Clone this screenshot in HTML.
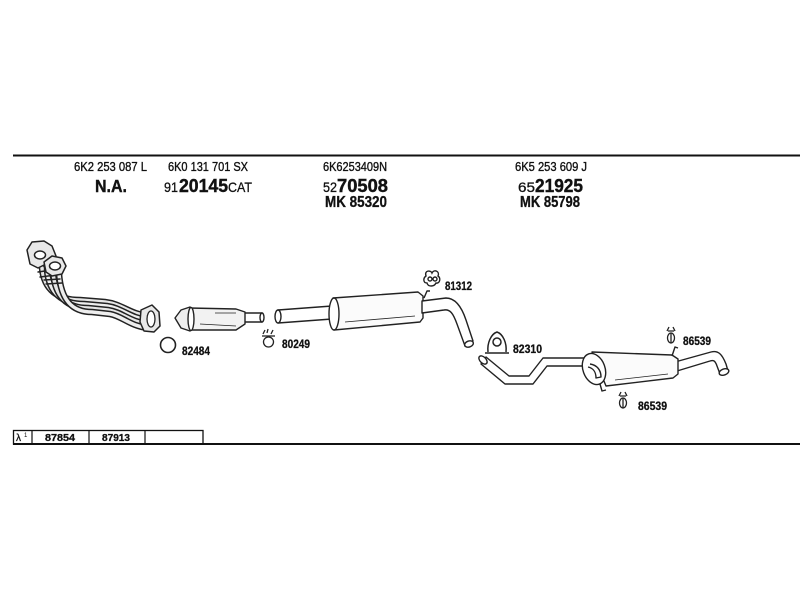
<!DOCTYPE html>
<html><head><meta charset="utf-8"><style>
html,body{margin:0;padding:0;background:#fff;}
svg{display:block;}
text{font-family:"Liberation Sans",Arial,sans-serif;fill:#111;}
.r{font-size:12.5px;stroke:#111;stroke-width:0.35px;}
.b{font-weight:bold;}
.l{font-size:12px;font-weight:bold;stroke:#111;stroke-width:0.3px;}
</style></head><body>
<svg width="800" height="600" viewBox="0 0 800 600" xmlns="http://www.w3.org/2000/svg">
<rect width="800" height="600" fill="#fff"/>
<!-- top rule -->
<line x1="13" y1="155.5" x2="800" y2="155.5" stroke="#111" stroke-width="2"/>
<!-- header texts -->
<text class="r" x="74" y="171" textLength="73" lengthAdjust="spacingAndGlyphs">6K2 253 087 L</text>
<text class="b" x="95" y="192" font-size="17.5" textLength="32" lengthAdjust="spacingAndGlyphs" stroke="#111" stroke-width="0.4">N.A.</text>

<text class="r" x="168" y="171" textLength="80" lengthAdjust="spacingAndGlyphs">6K0 131 701 SX</text>
<text x="164" y="192" font-size="14" textLength="14" lengthAdjust="spacingAndGlyphs" stroke="#111" stroke-width="0.3">91</text>
<text class="b" x="179" y="192" font-size="18" textLength="49" lengthAdjust="spacingAndGlyphs" stroke="#111" stroke-width="0.4">20145</text>
<text x="228" y="192" font-size="14" textLength="24" lengthAdjust="spacingAndGlyphs" stroke="#111" stroke-width="0.3">CAT</text>

<text class="r" x="323" y="171" textLength="64" lengthAdjust="spacingAndGlyphs">6K6253409N</text>
<text x="323" y="192" font-size="14" textLength="14" lengthAdjust="spacingAndGlyphs" stroke="#111" stroke-width="0.3">52</text>
<text class="b" x="337" y="192" font-size="18" textLength="51" lengthAdjust="spacingAndGlyphs" stroke="#111" stroke-width="0.4">70508</text>
<text class="b" x="325" y="207" font-size="15.5" textLength="62" lengthAdjust="spacingAndGlyphs" stroke="#111" stroke-width="0.3">MK 85320</text>

<text class="r" x="515" y="171" textLength="72" lengthAdjust="spacingAndGlyphs">6K5 253 609 J</text>
<text x="518" y="192" font-size="14" textLength="17" lengthAdjust="spacingAndGlyphs" stroke="#111" stroke-width="0.3">65</text>
<text class="b" x="535" y="192" font-size="18" textLength="48" lengthAdjust="spacingAndGlyphs" stroke="#111" stroke-width="0.4">21925</text>
<text class="b" x="520" y="207" font-size="15.5" textLength="60" lengthAdjust="spacingAndGlyphs" stroke="#111" stroke-width="0.3">MK 85798</text>

<!-- ===== manifold ===== -->
<g stroke="#222" fill="none" stroke-linecap="round" stroke-linejoin="round">
  <g>
    <path d="M42,268 C44,290 58,300 80,300 L105,302 C122,304 130,314 148,316" stroke="#222" stroke-width="6.5"/>
    <path d="M42,268 C44,290 58,300 80,300 L105,302 C122,304 130,314 148,316" stroke="#e6e6e6" stroke-width="3.5"/>
    <path d="M47,270 C49,293 62,304 84,304 L107,306 C122,308 130,318 148,320" stroke="#222" stroke-width="6.5"/>
    <path d="M47,270 C49,293 62,304 84,304 L107,306 C122,308 130,318 148,320" stroke="#eee" stroke-width="3.5"/>
    <path d="M53,272 C55,297 67,308 88,308 L108,310 C122,312 130,322 148,324" stroke="#222" stroke-width="6.5"/>
    <path d="M53,272 C55,297 67,308 88,308 L108,310 C122,312 130,322 148,324" stroke="#e6e6e6" stroke-width="3.5"/>
    <path d="M59,274 C61,300 72,312 92,312 L110,314 C122,316 130,326 148,328" stroke="#222" stroke-width="6.5"/>
    <path d="M59,274 C61,300 72,312 92,312 L110,314 C122,316 130,326 148,328" stroke="#eee" stroke-width="3.5"/>
  </g>
  <!-- collars -->
  <path d="M38,272 L52,270 M40,277 L56,275 M44,280 L60,279 M46,284 L62,283" stroke-width="1.4"/>
  <!-- flanges -->
  <path d="M27,250 L32,242 L44,241 L52,246 L56,256 L50,262 L38,268 L30,264 Z" fill="#e8e8e8" stroke-width="1.5"/>
  <ellipse cx="40" cy="255" rx="5.5" ry="4" fill="#fff" stroke-width="1.5"/>
  <path d="M44,262 L52,256 L62,258 L66,266 L62,274 L52,276 L46,272 Z" fill="#e8e8e8" stroke-width="1.5"/>
  <ellipse cx="55" cy="266" rx="5.5" ry="4" fill="#fff" stroke-width="1.5"/>
  <!-- outlet flange -->
  <path d="M141,310 L152,305 L159,312 L160,326 L154,332 L144,331 L140,322 Z" fill="#e8e8e8" stroke-width="1.5"/>
  <ellipse cx="151" cy="319" rx="4" ry="8" fill="#fff" stroke-width="1.3"/>
</g>

<!-- ===== catalyst ===== -->
<g stroke="#222" stroke-width="1.4" fill="#fff" stroke-linejoin="round">
  <path d="M244,313 L262,313 L262,322 L244,322 Z"/>
  <ellipse cx="262" cy="317.5" rx="2" ry="4.5"/>
  <path d="M189,308 L236,309 L245,312 L245,324 L236,330 L189,330 Z" fill="#f2f2f2"/>
  <path d="M175,318 L181,310 L190,307 L192,318 L190,331 L181,328 Z" fill="#eee"/>
  <ellipse cx="191" cy="319" rx="3" ry="11.5"/>
  <path d="M200,324 L236,326 M215,313 L236,313" stroke-width="0.8" fill="none"/>
</g>
<circle cx="168" cy="345" r="7.5" fill="none" stroke="#222" stroke-width="1.6"/>

<!-- ===== middle silencer ===== -->
<g stroke="#222" stroke-width="1.4" fill="#fff" stroke-linejoin="round">
  <path d="M278,310 L332,306 L332,319 L278,323 Z"/>
  <ellipse cx="278" cy="316.5" rx="3" ry="6.5"/>
  <path d="M333,298 L418,292 L423,296 L423,318 L420,322 L334,330 Z" fill="#fbfbfb"/>
  <ellipse cx="334" cy="314" rx="5" ry="16"/>
  <path d="M345,322 L415,316" stroke-width="0.8" fill="none"/>
  <path d="M422,301 L446,298 C456,298 462,308 466,320 L473,341 L465,346 L457,324 C453,313 450,309 444,310 L422,313 Z"/>
  <ellipse cx="469" cy="344" rx="4.5" ry="3" transform="rotate(-20 469 344)"/>
  <path d="M424,298 L427,291 L430,291" fill="none"/>
</g>

<!-- 81312 hanger -->
<g stroke="#222" stroke-width="1.4" fill="#fff">
  <path d="M426,276 C424,270 431,270 432,273 C434,269 440,271 438,276 C441,278 440,284 436,283 C434,287 428,287 427,283 C423,283 423,278 426,276 Z"/>
  <circle cx="430" cy="279" r="2" />
  <circle cx="435" cy="279" r="2" />
</g>
<!-- 80249 clamp -->
<g stroke="#222" stroke-width="1.3" fill="#fff">
  <path d="M263,334 L265,330 M267,333 L268,329 M271,334 L273,330" fill="none"/>
  <path d="M262,336 L275,336" />
  <circle cx="268.5" cy="342" r="5"/>
</g>

<!-- 82310 clamp -->
<g stroke="#222" stroke-width="1.5" fill="none">
  <path d="M488,352 C487,343 491,334 497,332 C503,334 507,343 506,352"/>
  <path d="M485,353 L509,353" />
  <circle cx="497" cy="342" r="4" fill="#fff"/>
</g>

<!-- ===== rear pipe & silencer ===== -->
<g stroke="#222" stroke-width="1.4" fill="#fff" stroke-linejoin="round">
  <path d="M486,357 L509,376 L529,376 L543,358 L588,358 L588,366 L547,366 L533,384 L505,384 L481,364 Z"/>
  <ellipse cx="483" cy="360" rx="3" ry="5" transform="rotate(-45 483 360)"/>
  <path d="M675,362 L711,352 C718,350 722,354 726,364 L728,371 L720,374 L717,366 C715,360 713,360 710,361 L677,371 Z"/>
  <ellipse cx="724" cy="372" rx="5" ry="3" transform="rotate(-20 724 372)"/>
  <path d="M592,352 L672,355 L678,359 L678,374 L673,378 L606,386 Z" fill="#fbfbfb"/>
  <ellipse cx="594" cy="369" rx="11" ry="16" transform="rotate(-20 594 369)"/>
  <path d="M588,367 C593,368 596,372 596,378 L601,377 C601,370 597,365 590,364" />
  <path d="M615,380 L668,374" stroke-width="0.8" fill="none"/>
  <path d="M600,384 L602,391 L606,390" fill="none"/>
  <path d="M672,356 L675,347 L678,348" fill="none"/>
</g>

<!-- 86539 hangers -->
<g stroke="#222" stroke-width="1.3" fill="#fff">
  <path d="M667,331 L669,327 M675,331 L673,327 M668,331 L674,331" fill="none"/>
  <ellipse cx="671" cy="338" rx="3.5" ry="5"/>
  <path d="M671,333 L671,343" />
  <path d="M619,396 L621,392 M627,396 L625,392 M620,396 L626,396" fill="none"/>
  <ellipse cx="623" cy="403" rx="3.5" ry="5"/>
  <path d="M623,398 L623,408" />
</g>

<!-- part labels -->
<text class="l" x="182" y="355" textLength="28" lengthAdjust="spacingAndGlyphs">82484</text>
<text class="l" x="282" y="348" textLength="28" lengthAdjust="spacingAndGlyphs">80249</text>
<text class="l" x="445" y="290" textLength="27" lengthAdjust="spacingAndGlyphs">81312</text>
<text class="l" x="513" y="353" textLength="29" lengthAdjust="spacingAndGlyphs">82310</text>
<text class="l" x="683" y="345" font-size="11" textLength="28" lengthAdjust="spacingAndGlyphs">86539</text>
<text class="l" x="638" y="410" font-size="11" textLength="29" lengthAdjust="spacingAndGlyphs">86539</text>

<!-- bottom table -->
<line x1="13" y1="444" x2="800" y2="444" stroke="#111" stroke-width="2"/>
<rect x="13.5" y="430.5" width="189.5" height="13.5" fill="none" stroke="#111" stroke-width="1.3"/>
<line x1="32" y1="430" x2="32" y2="444" stroke="#111" stroke-width="1.2"/>
<line x1="89" y1="430" x2="89" y2="444" stroke="#111" stroke-width="1.2"/>
<line x1="145" y1="430" x2="145" y2="444" stroke="#111" stroke-width="1.2"/>
<text x="16" y="441" font-size="10" stroke="#111" stroke-width="0.3">λ</text>
<text x="24" y="437" font-size="6">1</text>
<text class="b" x="45" y="441" font-size="10" textLength="30" lengthAdjust="spacingAndGlyphs" stroke="#111" stroke-width="0.3">87854</text>
<text class="b" x="102" y="441" font-size="10" textLength="28" lengthAdjust="spacingAndGlyphs" stroke="#111" stroke-width="0.3">87913</text>
</svg>
</body></html>
